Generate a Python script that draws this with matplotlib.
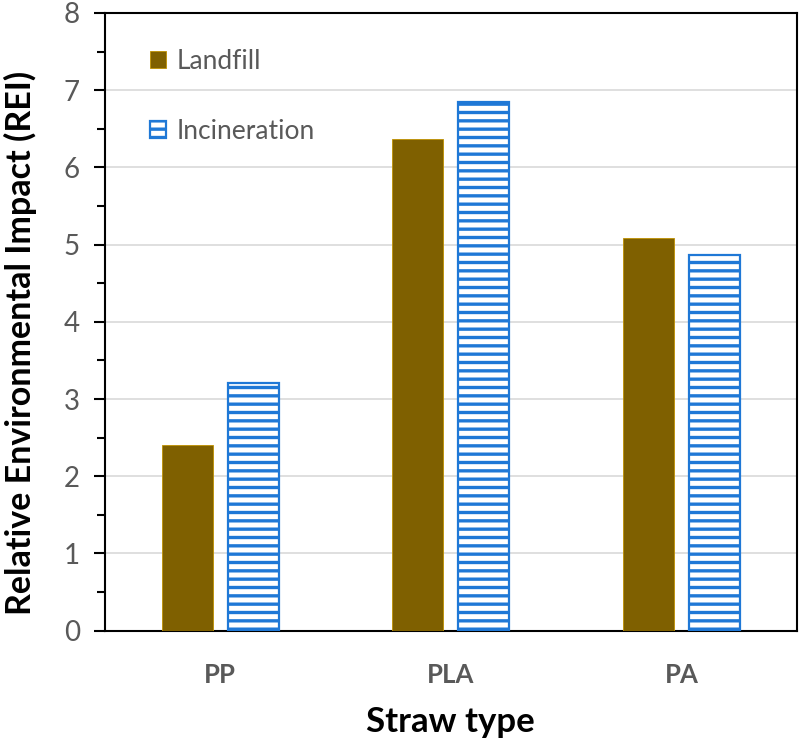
import matplotlib.pyplot as plt
import numpy as np

# datos
straws = ['PP', 'PLA', 'PA']
landfill = [2.41, 6.37, 5.09]
incineration = [3.21, 6.85, 4.86]

plt.rcParams['font.family'] = ['Lato', 'DejaVu Sans']
plt.rcParams['hatch.linewidth'] = 2.4
plt.rcParams['hatch.color'] = '#4472C4'

fig = plt.figure(figsize=(8, 7.42), dpi=100)
ax = fig.add_axes([0.131, 0.150, 0.865, 0.8325])

x = np.arange(len(straws))
w = 0.221
off = 0.143

ax.bar(x - off, landfill, width=w, color='#7F6000', edgecolor='#BF9000',
       linewidth=0.6, label='Landfill', zorder=3)
ax.bar(x + off, incineration, width=w, color='white', edgecolor='#1F78D6',
       linewidth=1.6, hatch='--', label='Incineration', zorder=3)

ax.set_xlim(-0.5, 2.5)
ax.set_ylim(0, 8)
ax.set_yticks(range(0, 9))
ax.set_yticks(np.arange(0.5, 8, 1), minor=True)
ax.yaxis.grid(True, color='#D9D9D9', linewidth=1.2, zorder=0)
ax.set_axisbelow(True)

ax.set_xticks(x)
ax.set_xticklabels(straws, fontsize=18.5, fontweight='bold', color='#595959')
ax.tick_params(axis='x', length=0, pad=23)
ax.tick_params(axis='y', which='major', length=8, width=1.5, labelsize=20,
               labelcolor='#595959', pad=10)
ax.tick_params(axis='y', which='minor', length=5.5, width=1.5)

for s in ax.spines.values():
    s.set_linewidth(1.5)
    s.set_color('black')

ax.set_xlabel('Straw type', fontsize=25, fontweight='bold', labelpad=14)
ax.set_ylabel('Relative Environmental Impact (REI)', fontsize=24.5,
              fontweight='bold')
ax.yaxis.set_label_coords(-0.098, 0.466)

leg = ax.legend(loc='upper left', bbox_to_anchor=(0.065, 0.942), frameon=False,
                fontsize=19, labelspacing=1.7, handlelength=0.6,
                handleheight=0.6, handletextpad=0.4, borderpad=0,
                borderaxespad=0)
for t in leg.get_texts():
    t.set_color('#595959')

plt.savefig('out.png', dpi=100)
